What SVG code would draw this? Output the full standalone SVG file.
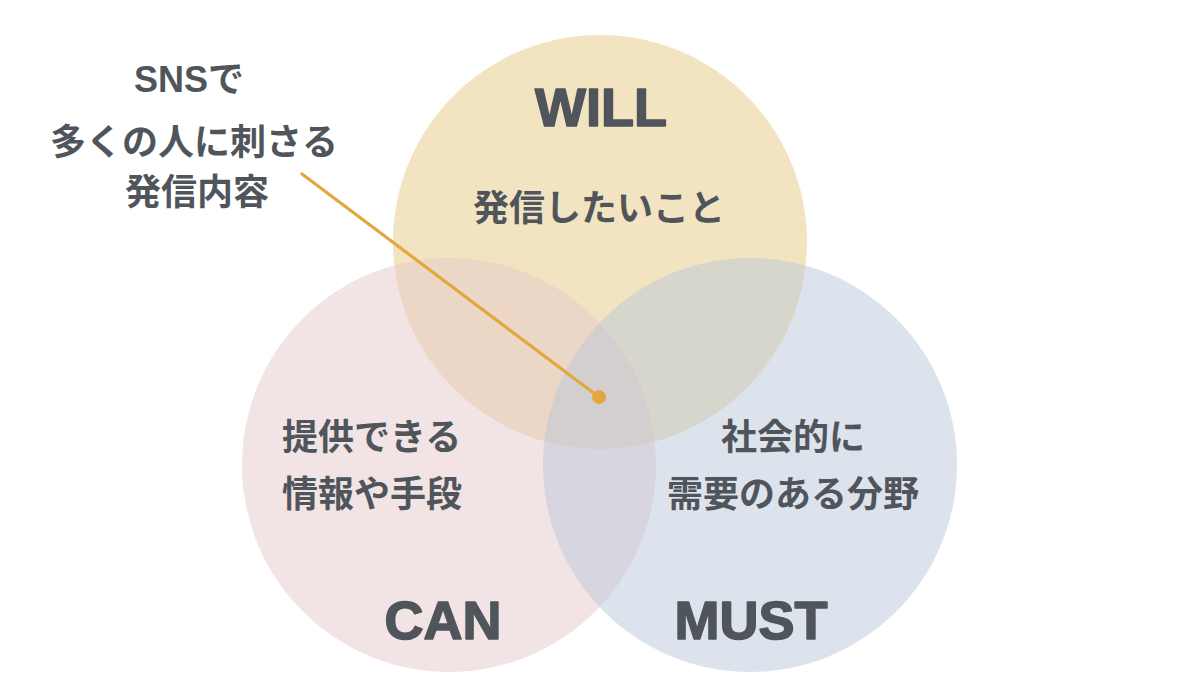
<svg xmlns="http://www.w3.org/2000/svg" width="1200" height="675" viewBox="0 0 1200 675">
<style>
.bg{fill:#ffffff}
.head{font-family:"Liberation Sans",Arial,sans-serif;font-weight:bold;font-size:54px;fill:#50555b;stroke:#50555b;stroke-width:1.6px;stroke-linejoin:round;text-anchor:middle}
.jp{font-family:"Noto Sans CJK JP","Noto Sans",sans-serif;font-weight:bold;font-size:36px;fill:#50555b}
.lat{font-family:"Liberation Sans",Arial,sans-serif;font-weight:bold}
.mid{text-anchor:middle}
.conn{stroke:#e2a73e;stroke-width:3.2;fill:none;stroke-linecap:round}
</style>
<rect class="bg" x="0" y="0" width="1200" height="675"/>
<g id="will">
<circle cx="600" cy="242" r="207" fill="#f2e4c1"/>
<text class="head" x="601" y="126">WILL</text>
<text class="jp mid" x="599" y="221">発信したいこと</text>
</g>
<g id="can">
<circle cx="449" cy="465" r="207" fill="#e5c7c9" fill-opacity="0.5"/>
<text class="jp" x="282" y="450">提供できる</text>
<text class="jp" x="282" y="507">情報や手段</text>
<text class="head" x="443" y="639">CAN</text>
</g>
<g id="must">
<circle cx="750" cy="465" r="207" fill="#bbc7d9" fill-opacity="0.5"/>
<text class="jp mid" x="793" y="450">社会的に</text>
<text class="jp mid" x="793" y="507">需要のある分野</text>
<text class="head" x="751" y="639">MUST</text>
</g>
<g id="label">
<text class="jp mid" x="189" y="92"><tspan class="lat">SNS</tspan>で</text>
<text class="jp mid" x="194" y="155">多くの人に刺さる</text>
<text class="jp mid" x="197" y="205">発信内容</text>
</g>
<g id="connectors">
<line class="conn" x1="302" y1="174" x2="599" y2="397"/>
<circle cx="599" cy="397" r="7" fill="#e2a73e"/>
</g>
</svg>
